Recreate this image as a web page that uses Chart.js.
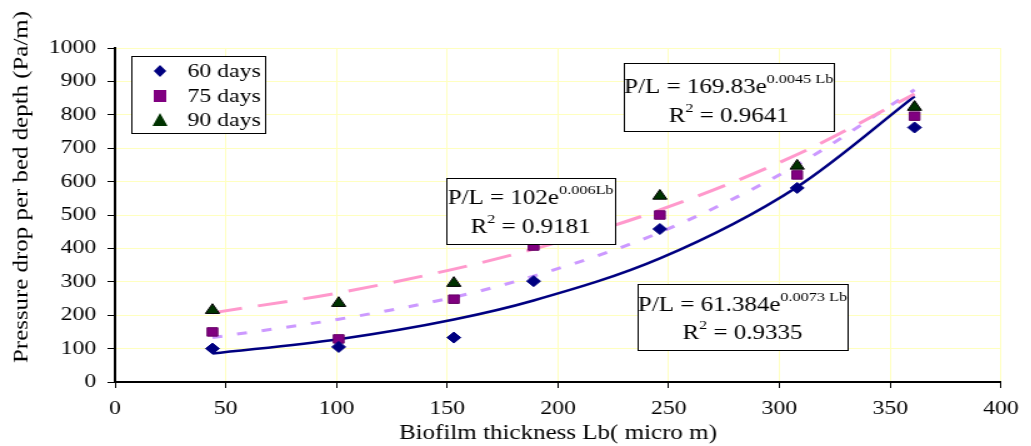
<!DOCTYPE html>
<html>
<head>
<meta charset="utf-8">
<script src="https://cdn.jsdelivr.net/npm/chart.js@4.4.0/dist/chart.umd.min.js"></script>
<style>
  html, body { margin: 0; padding: 0; background: #fff; overflow: hidden; }
  /* the source picture is stretched sideways, so draw narrow and stretch */
  #wrap { width: 825px; height: 446px; transform: scaleX(1.25); transform-origin: 0 0; }
</style>
</head>
<body>
<div id="wrap"><canvas id="chart" width="825" height="446"></canvas></div>
<script>
// thickness values (micro m)
const thickness = [44, 101, 153, 189, 246, 308, 361];
const seriesNames = ['60 days', '75 days', '90 days'];
const days60 = [100, 105, 133, 302, 458, 581, 762];
const days75 = [150, 129, 248, 407, 500, 620, 796];
const days90 = [215, 236, 296, 440, 557, 647, 823];

// trendline values at the same thickness values
const trend60 = [85, 128, 187, 244, 370, 584, 855];
const trend75 = [133, 188, 254, 317, 448, 650, 875];
const trend90 = [207, 267, 338, 398, 515, 681, 862];

const xTicks = [0, 50, 100, 150, 200, 250, 300, 350, 400];
const yTicks = [0, 100, 200, 300, 400, 500, 600, 700, 800, 900, 1000];

const yTitle = 'Pressure drop per bed depth (Pa/m)';
const xTitle = 'Biofilm thickness Lb( micro m)';

const equations = [
  { a: '169.83', b: '0.0045 Lb', r2: '0.9641' },
  { a: '102', b: '0.006Lb', r2: '0.9181' },
  { a: '61.384', b: '0.0073 Lb', r2: '0.9335' }
];

const toXY = (ys) => ys.map((v, i) => ({ x: thickness[i], y: v }));
const serif = "'Liberation Serif', 'Times New Roman', serif";

const markerColors = ['#000080', '#800080', '#003300'];

// boxes (canvas px): left, top, right, bottom, baseline1, baseline2
const boxes = [
  [499, 63, 667, 131, 93, 122],
  [357, 178, 492, 244, 204, 233],
  [510, 284, 678, 350, 311, 339]
];

const overlay = {
  id: 'overlay',
  afterDraw(chart) {
    const ctx = chart.ctx;
    ctx.save();
    // y axis title, drawn by hand since it is taller than its font
    ctx.save();
    ctx.font = '17px ' + serif;
    const tw = ctx.measureText(yTitle).width;
    ctx.translate(21.5, 187);
    ctx.rotate(-Math.PI / 2);
    ctx.scale(352 / tw, 1);
    ctx.fillStyle = '#000';
    ctx.textAlign = 'center';
    ctx.textBaseline = 'alphabetic';
    ctx.fillText(yTitle, 0, 0);
    ctx.restore();

    // legend
    ctx.fillStyle = '#fff';
    ctx.fillRect(105, 56, 107, 77);
    ctx.strokeStyle = '#000';
    ctx.lineWidth = 1;
    ctx.strokeRect(105.5, 56.5, 107, 77);
    const rows = [71, 96, 120];
    seriesNames.forEach((name, i) => {
      const y = rows[i];
      const mx = 128;
      ctx.fillStyle = markerColors[i];
      ctx.beginPath();
      if (i === 0) {
        ctx.moveTo(mx, y - 6); ctx.lineTo(mx + 5, y); ctx.lineTo(mx, y + 6); ctx.lineTo(mx - 5, y);
      } else if (i === 1) {
        ctx.rect(mx - 5, y - 6, 10, 12);
      } else {
        ctx.moveTo(mx, y - 7); ctx.lineTo(mx + 6, y + 6); ctx.lineTo(mx - 6, y + 6);
      }
      ctx.closePath();
      ctx.fill();
      ctx.fillStyle = '#000';
      ctx.font = '19px ' + serif;
      ctx.textBaseline = 'middle';
      ctx.fillText(name, 150, y + 1);
    });
    // equation boxes
    ctx.textBaseline = 'alphabetic';
    equations.forEach((eq, i) => {
      const [l, t, r, b, b1, b2] = boxes[i];
      ctx.fillStyle = '#fff';
      ctx.fillRect(l, t, r - l, b - t);
      ctx.strokeStyle = '#000';
      ctx.lineWidth = 1;
      ctx.strokeRect(l + 0.5, t + 0.5, r - l, b - t);
      const cx = (l + r) / 2;
      const big = '20px ' + serif, small = '13px ' + serif;
      const main = 'P/L = ' + eq.a + 'e';
      ctx.font = big; const w1 = ctx.measureText(main).width;
      ctx.font = small; const w2 = ctx.measureText(eq.b).width;
      let x = cx - (w1 + w2) / 2;
      ctx.fillStyle = '#000';
      ctx.font = big; ctx.fillText(main, x, b1);
      ctx.font = small; ctx.fillText(eq.b, x + w1, b1 - 10);
      const p1 = 'R', p3 = ' = ' + eq.r2;
      ctx.font = big; const wa = ctx.measureText(p1).width, wc = ctx.measureText(p3).width;
      ctx.font = small; const wb = ctx.measureText('2').width;
      x = cx - (wa + wb + wc) / 2;
      ctx.font = big; ctx.fillText(p1, x, b2);
      ctx.font = small; ctx.fillText('2', x + wa, b2 - 10);
      ctx.font = big; ctx.fillText(p3, x + wa + wb, b2);
    });
    ctx.restore();
  }
};

const trendDs = (data, color, dash, width) => ({
  type: 'line', data: toXY(data), borderColor: color, borderWidth: width,
  borderDash: dash, pointRadius: 0, fill: false,
  cubicInterpolationMode: 'monotone', order: 5
});

new Chart(document.getElementById('chart'), {
  type: 'scatter',
  data: {
    datasets: [
      trendDs(trend90, '#ff99cc', [24, 13], 3),
      trendDs(trend75, '#cc99ff', [8, 12], 3),
      trendDs(trend60, '#000080', [], 2.5),
      { label: seriesNames[0], data: toXY(days60), pointStyle: 'rectRot', pointRadius: 5.5,
        backgroundColor: markerColors[0], borderColor: markerColors[0], order: 1 },
      { label: seriesNames[1], data: toXY(days75), pointStyle: 'rect', pointRadius: 6,
        backgroundColor: markerColors[1], borderColor: '#660066', borderWidth: 1, order: 2 },
      { label: seriesNames[2], data: toXY(days90), pointStyle: 'triangle', pointRadius: 6.5,
        backgroundColor: markerColors[2], borderColor: '#000', borderWidth: 1, order: 3 }
    ]
  },
  options: {
    responsive: false,
    animation: false,
    layout: { padding: { top: 48, right: 23, left: 0, bottom: 0 } },
    plugins: { legend: { display: false }, tooltip: { enabled: false } },
    scales: {
      x: {
        type: 'linear', min: 0, max: 400,
        afterBuildTicks: (s) => { s.ticks = xTicks.map(v => ({ value: v })); },
        afterFit: (s) => { s.height = 64; },
        grid: { color: '#ffffc0', tickColor: '#000', tickLength: 6, lineWidth: 1 },
        border: { color: '#000', width: 2 },
        ticks: { color: '#000', font: { family: serif, size: 19 }, padding: 10, maxRotation: 0,
          callback: (v) => String(v) },
        title: { display: true, text: xTitle, color: '#000',
          font: { family: serif, size: 20 }, padding: { top: 0, bottom: 0 } }
      },
      y: {
        min: 0, max: 1000,
        afterBuildTicks: (s) => { s.ticks = yTicks.map(v => ({ value: v })); },
        afterFit: (s) => { s.width = 92; },
        grid: { color: '#ffffc0', tickColor: '#000', tickLength: 6, lineWidth: 1 },
        border: { color: '#000', width: 2 },
        ticks: { color: '#000', font: { family: serif, size: 19 }, padding: 9,
          callback: (v) => String(v) },
        title: { display: false }
      }
    }
  },
  plugins: [overlay]
});
</script>
</body>
</html>
